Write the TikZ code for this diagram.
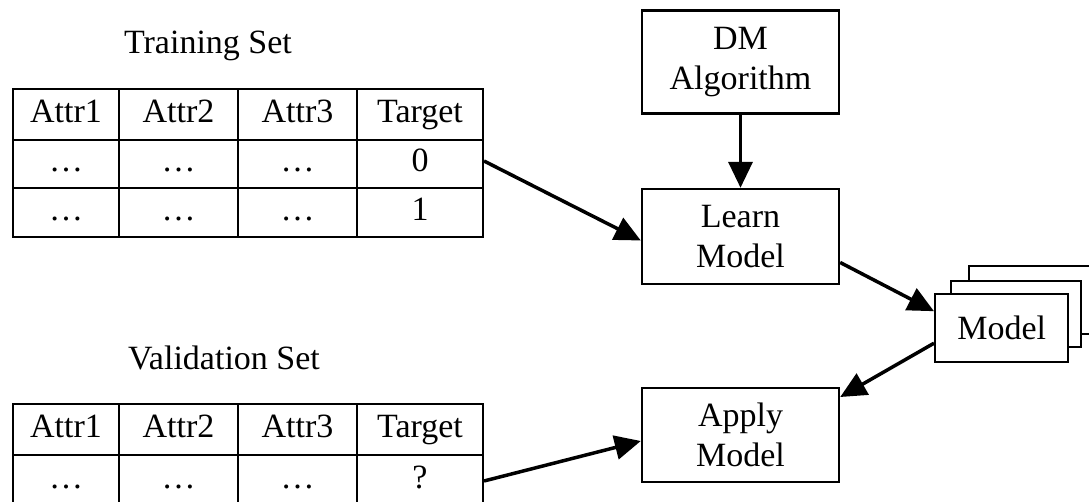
\documentclass[tikz,border=0pt]{standalone}
\usepackage{fontspec}
\setmainfont{Liberation Serif}
\usetikzlibrary{arrows.meta}
\begin{document}
\begin{tikzpicture}[x=1pt,y=-1pt,
  every node/.style={font=\fontsize{34}{40}\selectfont},
  cell/.style={draw, line width=2pt, inner sep=0pt, anchor=north west, text height=23pt, text depth=7pt},
  box/.style={draw, line width=2.4pt, fill=white, inner sep=0pt, align=center, minimum width=197pt},
  arr/.style={line width=3.5pt, -{Triangle[length=26pt,width=24pt]}},
  title/.style={inner sep=0pt}]
\useasboundingbox (0,0) rectangle (1089,502);
\fill[white] (0,0) rectangle (1089,502);

% Titles
\node[title] (ttrain) at (208,46) {Training Set};
\node[title] (tval) at (224,358) {Validation Set};

% Training table
\node[cell, minimum width=106pt, minimum height=51pt] (a11) at (12,88) {Attr1};
\node[cell, minimum width=119pt, minimum height=51pt] (a12) at (118,88) {Attr2};
\node[cell, minimum width=119pt, minimum height=51pt] (a13) at (237,88) {Attr3};
\node[cell, minimum width=126pt, minimum height=51pt] (a14) at (356,88) {Target};
\node[cell, minimum width=106pt, minimum height=48pt] (a21) at (12,139) {…};
\node[cell, minimum width=119pt, minimum height=48pt] (a22) at (118,139) {…};
\node[cell, minimum width=119pt, minimum height=48pt] (a23) at (237,139) {…};
\node[cell, minimum width=126pt, minimum height=48pt] (a24) at (356,139) {0};
\node[cell, minimum width=106pt, minimum height=49pt] (a31) at (12,187) {…};
\node[cell, minimum width=119pt, minimum height=49pt] (a32) at (118,187) {…};
\node[cell, minimum width=119pt, minimum height=49pt] (a33) at (237,187) {…};
\node[cell, minimum width=126pt, minimum height=49pt] (a34) at (356,187) {1};

% Validation table
\node[cell, minimum width=106pt, minimum height=51pt] (b11) at (12,403) {Attr1};
\node[cell, minimum width=119pt, minimum height=51pt] (b12) at (118,403) {Attr2};
\node[cell, minimum width=119pt, minimum height=51pt] (b13) at (237,403) {Attr3};
\node[cell, minimum width=126pt, minimum height=51pt] (b14) at (356,403) {Target};
\node[cell, minimum width=106pt, minimum height=50pt] (b21) at (12,454) {…};
\node[cell, minimum width=119pt, minimum height=50pt] (b22) at (118,454) {…};
\node[cell, minimum width=119pt, minimum height=50pt] (b23) at (237,454) {…};
\node[cell, minimum width=126pt, minimum height=50pt] (b24) at (356,454) {?};

% Process boxes
\node[box, minimum height=103pt] (dm) at (740.5,62) {DM\\Algorithm};
\node[box, minimum height=95pt] (learn) at (740.5,236.5) {Learn\\Model};
\node[box, minimum height=94pt] (apply) at (740.5,435) {Apply\\Model};

% Model stack
\node[box, minimum width=140pt, minimum height=68pt, anchor=north west] (m3) at (968,265) {};
\node[box, minimum width=130pt, minimum height=66pt, anchor=north west] (m2) at (950,280) {};
\node[box, minimum width=133pt, minimum height=68pt, anchor=north west] (model) at (934,293) {Model};

% Arrows
\draw[arr] (dm.south) -- (learn.north);
\draw[arr] ([yshift=3pt]a24.east) -- ([yshift=-4pt]learn.west);
\draw[arr] ([yshift=-26pt]learn.east) -- ([yshift=17pt]model.west);
\draw[arr] ([yshift=-15pt]model.west) -- ([yshift=38pt]apply.east);
\draw[arr] ([yshift=-1pt]b24.east) -- ([yshift=-6pt]apply.west);
\end{tikzpicture}
\end{document}
